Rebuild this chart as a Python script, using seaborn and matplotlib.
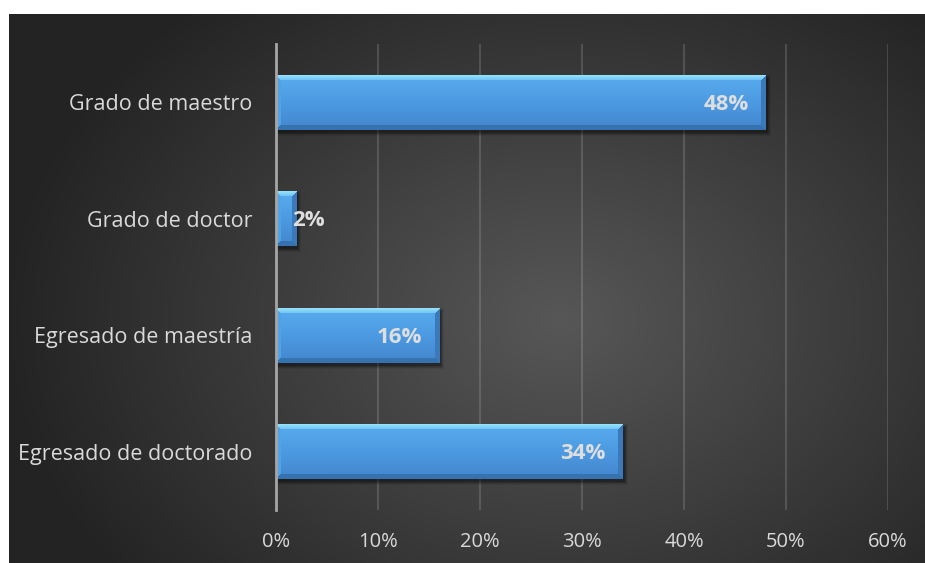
import numpy as np
import pandas as pd
import matplotlib
matplotlib.use("Agg")
import matplotlib.pyplot as plt
import seaborn as sns
from matplotlib.colors import to_rgb
from matplotlib.patches import Rectangle
import matplotlib.transforms as mtransforms

# --- data -------------------------------------------------------------
categories = ["Grado de maestro", "Grado de doctor",
              "Egresado de maestría", "Egresado de doctorado"]
percentages = [48, 2, 16, 34]
x_ticks = [0, 10, 20, 30, 40, 50, 60]
x_tick_labels = ["0%", "10%", "20%", "30%", "40%", "50%", "60%"]

df = pd.DataFrame({"categoria": categories, "porcentaje": percentages})

sns.set_theme(style="white")
plt.rcParams["font.family"] = ["Open Sans", "DejaVu Sans"]

W, H, DPI = 925, 563, 100
fig = plt.figure(figsize=(W / DPI, H / DPI), dpi=DPI)
fig.patch.set_facecolor("white")

# --- dark radial background panel ------------------------------------
bg_left, bg_top = 9, 14
bg = fig.add_axes([bg_left / W, 0, (W - bg_left) / W, (H - bg_top) / H], zorder=-5)
gh, gw = H - bg_top, W - bg_left
yy, xx = np.mgrid[0:gh, 0:gw]
cx, cy = 560 - bg_left, 320 - bg_top
r = np.sqrt(((xx - cx) / 560.0) ** 2 + ((yy - cy) / 420.0) ** 2)
r = np.clip(r, 0, 1)
inner, outer = np.array(to_rgb("#575757")), np.array(to_rgb("#232323"))
img = inner[None, None, :] * (1 - r[..., None]) + outer[None, None, :] * r[..., None]
bg.imshow(img, aspect="auto", interpolation="bilinear")
bg.set_axis_off()

# --- main axes ----------------------------------------------------------
ax_l, ax_r, ax_t, ax_b = 276, 888, 44, 510
ax = fig.add_axes([ax_l / W, 1 - ax_b / H, (ax_r - ax_l) / W, (ax_b - ax_t) / H])
ax.set_facecolor("none")

sns.barplot(data=df, x="porcentaje", y="categoria", orient="h",
            width=0.47, color="#4a9ae0", linewidth=0, ax=ax, zorder=3)

ax.set_xlim(0, 60)
ax.set_ylim(len(categories) - 0.5, -0.5)
ax.set_xticks(x_ticks)
ax.set_xticklabels(x_tick_labels)
ax.set_xlabel("")
ax.set_ylabel("")
ax.tick_params(axis="x", colors="#d9d9d9", labelsize=14.5, length=0, pad=16)
ax.tick_params(axis="y", colors="#d9d9d9", labelsize=15.5, length=0, pad=17)
for lab in ax.get_xticklabels() + ax.get_yticklabels():
    lab.set_color("#d9d9d9")

ax.grid(axis="x", color="white", alpha=0.14, linewidth=1.5, zorder=0)
ax.set_axisbelow(True)
for side in ["top", "right", "bottom"]:
    ax.spines[side].set_visible(False)
ax.spines["left"].set_color("#a6a6a6")
ax.spines["left"].set_linewidth(2)
ax.spines["left"].set_zorder(6)

fig.canvas.draw()


def bevel_image(wpx, hpx, b=5):
    yy, xx = np.mgrid[0:hpx, 0:wpx].astype(float)
    t = yy / max(hpx - 1, 1)
    top_c, mid_c, bot_c = (np.array(to_rgb(c)) for c in ("#58acee", "#4c9ae2", "#4486cd"))
    body = np.where(t[..., None] < 0.5,
                    top_c * (1 - 2 * t[..., None]) + mid_c * 2 * t[..., None],
                    mid_c * (2 - 2 * t[..., None]) + bot_c * (2 * t[..., None] - 1))
    dt, db = yy, hpx - 1 - yy
    dl, dr = xx, wpx - 1 - xx
    m = np.minimum.reduce([dt, db, dl, dr])
    out = body.copy()
    edge = m < b
    top = edge & (dt == m)
    bot = edge & (db == m) & ~top
    left = edge & (dl == m) & ~top & ~bot
    right = edge & (dr == m) & ~top & ~bot & ~left
    # top bevel fades from pale cyan to the body colour
    tt = (dt / b)[..., None]
    top_grad = np.array(to_rgb("#94e0fb")) * (1 - tt) + np.array(to_rgb("#6cc2f4")) * tt
    out[top] = top_grad[top]
    out[bot] = np.array(to_rgb("#3572b0"))
    out[left] = np.array(to_rgb("#52a2e6"))
    out[right] = np.array(to_rgb("#3b79bb"))
    return out


for patch, val in zip(ax.patches, percentages):
    x0, y0 = patch.get_x(), patch.get_y()
    w, h = patch.get_width(), patch.get_height()
    ext = patch.get_window_extent()
    wpx, hpx = max(int(round(ext.width)), 2), max(int(round(ext.height)), 2)
    # soft drop shadow
    off = mtransforms.offset_copy(ax.transData, fig=fig, x=2, y=-3, units="dots")
    for grow, a in [(3, 0.07), (2, 0.11), (1, 0.15), (0, 0.22)]:
        dx = grow * 60.0 / (ax_r - ax_l)
        dy = grow * 4.0 / (ax_b - ax_t)
        ax.add_patch(Rectangle((x0 - dx, y0 - dy), w + 2 * dx, h + 2 * dy,
                               transform=off, facecolor="black", alpha=a,
                               edgecolor="none", zorder=2))
    patch.set_facecolor("none")
    patch.set_edgecolor("none")
    ax.imshow(bevel_image(wpx, hpx), extent=(x0, x0 + w, y0 + h, y0),
              origin="upper", aspect="auto", interpolation="nearest", zorder=4)

    # value label
    if val >= 5:
        tr = mtransforms.offset_copy(ax.transData, fig=fig, x=-17, y=-2, units="dots")
        ha = "right"
    else:
        tr = mtransforms.offset_copy(ax.transData, fig=fig, x=-4, y=-2, units="dots")
        ha = "left"
    ax.text(val, y0 + h / 2, f"{val}%", transform=tr, ha=ha, va="center",
            fontsize=16, fontweight="bold", color="#dedede", zorder=7)

ax.set_xlim(0, 60)
ax.set_ylim(len(categories) - 0.5, -0.5)

fig.savefig("out.png", dpi=DPI, facecolor=fig.get_facecolor())
